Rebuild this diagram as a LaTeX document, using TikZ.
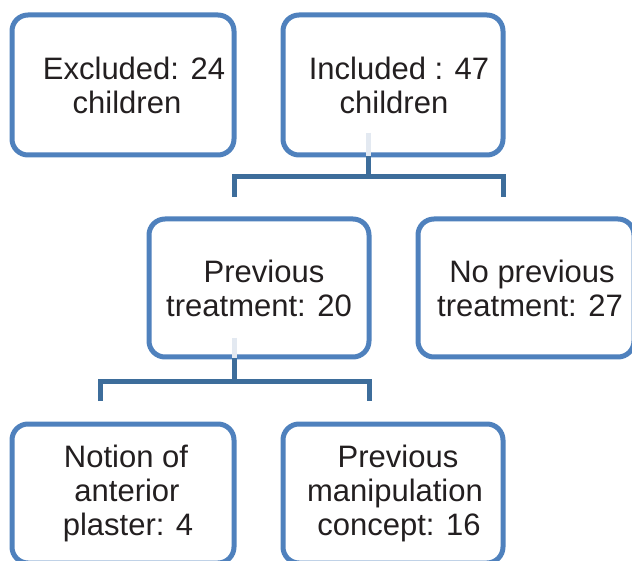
\documentclass[tikz,border=0pt]{standalone}
\usepackage{fontspec}
\setmainfont{Liberation Sans}
\usepackage{tikz}
\usetikzlibrary{calc}
\definecolor{C0}{HTML}{4F81BD}
\definecolor{C1}{HTML}{3D6D9B}
\definecolor{C2}{HTML}{E3E9F1}
\definecolor{T0}{HTML}{231F20}
\tikzstyle{box} = [draw=C0, line width=5pt, rounded corners=16pt, fill=white, align=center, text=T0, inner sep=0pt, font=\fontsize{31}{34}\selectfont]
\tikzstyle{link} = [draw=C1, line width=5pt]
\tikzstyle{stub} = [draw=C2, line width=5pt]

\begin{document}
\begin{tikzpicture}[x=1pt, y=-1pt]
	\useasboundingbox (0,0) rectangle (632,561);
	
	% top row
	\node[box, minimum width=222pt, minimum height=140pt] (ex) at (123,85) {\hspace*{22pt}Excluded: 24\\\hspace*{8pt}children};
	\node[box, minimum width=220pt, minimum height=140pt] (inc) at (393,85) {\hspace*{12pt}Included : 47\\\hspace*{2pt}children};
	
	% middle row
	\node[box, minimum width=220pt, minimum height=138pt] (prev) at (259,288) {\hspace*{10pt}Previous\\treatment: 20};
	\node[box, minimum width=216pt, minimum height=138pt] (nop) at (526,288) {\hspace*{12pt}No previous\\\hspace*{8pt}treatment: 27};
	
	% bottom row
	\node[box, minimum width=222pt, minimum height=139pt] (pla) at (123,493.5) {\hspace*{6pt}Notion of\\\hspace*{8pt}anterior\\\hspace*{10pt}plaster: 4};
	\node[box, minimum width=220pt, minimum height=139pt] (man) at (393,493.5) {\hspace*{10pt}Previous\\\hspace*{4pt}manipulation\\\hspace*{12pt}concept: 16};
	
	% connectors
	\coordinate (inc-top) at (368,133);
	\coordinate (inc-bot) at (368,156);
	\coordinate (inc-mid) at (368,177);
	\coordinate (inc-l) at (234.5,197);
	\coordinate (inc-r) at (503,197);
	\draw[stub] (inc-top) -- (inc-bot);
	\draw[link] (inc-bot) -- (inc-mid);
	\draw[link] (inc-l) |- (inc-mid) -| (inc-r);
	
	\coordinate (prev-top) at (234,338);
	\coordinate (prev-bot) at (234,358);
	\coordinate (prev-mid) at (234,381);
	\coordinate (prev-l) at (100,401);
	\coordinate (prev-r) at (369,401);
	\draw[stub] (prev-top) -- (prev-bot);
	\draw[link] (prev-bot) -- (prev-mid);
	\draw[link] (prev-l) |- (prev-mid) -| (prev-r);
\end{tikzpicture}
\end{document}
